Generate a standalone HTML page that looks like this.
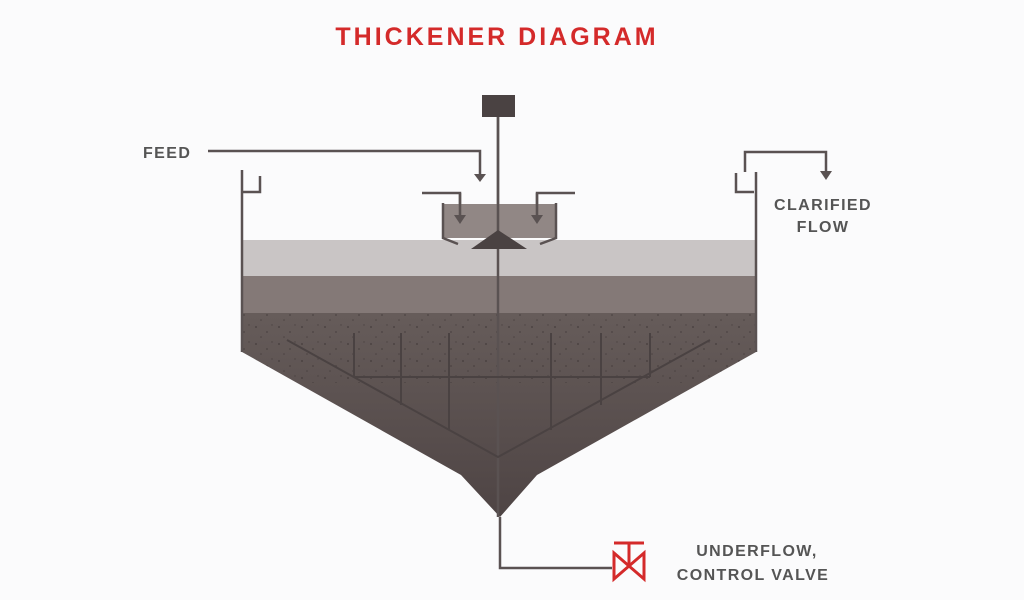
<!DOCTYPE html>
<html><head><style>
html,body{margin:0;padding:0;background:#fbfbfc;}
svg{display:block}
text{font-family:"Liberation Sans",sans-serif;font-weight:bold;}
</style></head><body>
<svg width="1024" height="600" viewBox="0 0 1024 600">
<defs>
<linearGradient id="dk" x1="0" y1="0" x2="0" y2="1">
<stop offset="0" stop-color="#665c5a"/><stop offset="1" stop-color="#4e4444"/>
</linearGradient>
<pattern id="dots" width="23" height="17" patternUnits="userSpaceOnUse">
<circle cx="3" cy="4" r="1" fill="#3c3434"/><circle cx="14" cy="9" r="0.9" fill="#3c3434"/><circle cx="8" cy="14" r="0.8" fill="#3c3434"/><circle cx="19" cy="2" r="0.7" fill="#3c3434"/>
</pattern>
<clipPath id="cone"><polygon points="242,313 756,313 756,352 537,475 500,517 461,475 242,352"/></clipPath>
</defs>
<text x="497" y="45" text-anchor="middle" font-size="25" letter-spacing="3" fill="#d42a2a">THICKENER DIAGRAM</text>
<rect x="242" y="240" width="514" height="36" fill="#c9c5c5"/>
<rect x="242" y="276" width="514" height="37" fill="#847977"/>
<polygon points="242,313 756,313 756,352 537,475 500,517 461,475 242,352" fill="url(#dk)"/>
<rect x="242" y="313" width="514" height="70" fill="url(#dots)" opacity="0.6" clip-path="url(#cone)"/>
<g stroke="#5a5252" stroke-width="2.5" fill="none">
<path d="M242,170 V352"/><path d="M756,172 V352"/>
<path d="M242,192 H260 V176"/><path d="M736,173 V192 H754"/>
<path d="M745,172 V152 H826 V172"/>
<path d="M208,151 H480 V174"/>
<path d="M422,193 H460 V215"/><path d="M575,193 H537 V215"/>
<path d="M498,117 V517"/>
<path d="M500,517 V568 H612"/>
</g>
<g stroke="#4a4242" stroke-width="2" fill="none">
<path d="M287,340 L498,457 L710,340"/>
<path d="M354,377 H650"/>
<path d="M354,333 V377 M401,333 V405 M449,333 V430 M551,333 V430 M601,333 V405 M650,333 V377"/>
</g>
<g fill="#5a5252">
<polygon points="474,174 486,174 480,182"/>
<polygon points="820,171 832,171 826,180"/>
</g>
<rect x="444" y="204" width="111" height="34" fill="#857a78" opacity="0.9"/>
<path d="M443,203 V238 L458,244 M556,203 V238 L540,244" fill="none" stroke="#5a5252" stroke-width="2.5"/>
<path d="M460,193 V215 M537,193 V215" stroke="#5a5252" stroke-width="2.5"/>
<polygon points="454,215 466,215 460,224" fill="#5a5252"/>
<polygon points="531,215 543,215 537,224" fill="#5a5252"/>
<line x1="498" y1="117" x2="498" y2="240" stroke="#5a5252" stroke-width="2.5"/>
<polygon points="471,249 527,249 498,230" fill="#4a4242"/>
<rect x="482" y="95" width="33" height="22" fill="#4a4242"/>
<g stroke="#d42a2a" stroke-width="3" fill="none">
<path d="M614,543 H644 M629,543 V566"/>
<polygon points="614,553 644,579 644,553 614,579"/>
</g>
<g font-size="16" fill="#555" letter-spacing="1.4">
<text x="143" y="158">FEED</text>
<text x="823" y="210" text-anchor="middle">CLARIFIED</text>
<text x="823" y="232" text-anchor="middle">FLOW</text>
<text x="757" y="556" text-anchor="middle">UNDERFLOW,</text>
<text x="753" y="580" text-anchor="middle">CONTROL VALVE</text>
</g>
</svg>
</body></html>
